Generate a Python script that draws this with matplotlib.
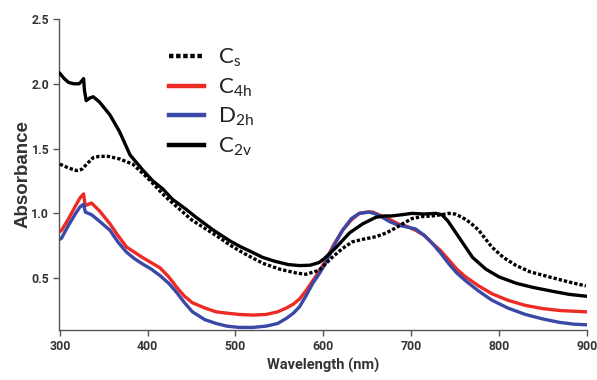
import matplotlib
matplotlib.use("Agg")
import matplotlib.pyplot as plt
import numpy as np

# ---- data ----
cs_x = [300, 310, 319, 325, 332, 338, 345, 355, 368, 383, 399, 420, 450, 480, 495, 510, 531, 550, 569, 580, 595, 610, 622, 633, 645, 660, 672, 683, 693, 701, 712, 724, 735, 743, 750, 758, 767, 777, 785, 792, 805, 819, 835, 857, 880, 899]
cs_y = [1.38, 1.35, 1.33, 1.34, 1.39, 1.43, 1.44, 1.44, 1.42, 1.38, 1.28, 1.13, 0.95, 0.82, 0.75, 0.69, 0.615, 0.57, 0.54, 0.53, 0.56, 0.66, 0.73, 0.78, 0.80, 0.82, 0.85, 0.89, 0.93, 0.96, 0.975, 0.98, 0.99, 1.0, 0.995, 0.97, 0.93, 0.87, 0.80, 0.74, 0.66, 0.60, 0.55, 0.51, 0.47, 0.44]

c4h_x = [300, 302, 310, 318, 323, 327, 328, 329, 336, 345, 357, 366, 376, 385, 394, 404, 414, 424, 433, 442, 451, 465, 478, 490, 504, 520, 535, 548, 558, 566, 573, 580, 588, 596, 603, 612, 622, 632, 641, 650, 656, 663, 671, 678, 685, 695, 705, 715, 724, 734, 743, 752, 762, 777, 792, 810, 830, 850, 870, 900]
c4h_y = [0.86, 0.87, 0.96, 1.06, 1.12, 1.15, 1.10, 1.06, 1.08, 1.02, 0.92, 0.83, 0.74, 0.70, 0.66, 0.62, 0.58, 0.51, 0.43, 0.36, 0.31, 0.27, 0.24, 0.23, 0.22, 0.215, 0.22, 0.24, 0.27, 0.30, 0.34, 0.40, 0.48, 0.56, 0.64, 0.76, 0.87, 0.95, 1.0, 1.01, 1.01, 0.99, 0.97, 0.945, 0.92, 0.90, 0.87, 0.83, 0.77, 0.71, 0.64, 0.57, 0.51, 0.44, 0.38, 0.33, 0.29, 0.265, 0.25, 0.24]

d2h_x = [300, 302, 310, 318, 323, 327, 328, 329, 336, 345, 357, 366, 376, 385, 394, 404, 414, 424, 433, 442, 451, 465, 478, 490, 504, 520, 535, 548, 558, 566, 573, 580, 588, 596, 603, 612, 622, 632, 641, 652, 660, 667, 676, 685, 695, 705, 715, 724, 734, 743, 752, 762, 777, 792, 810, 830, 850, 868, 885, 900]
d2h_y = [0.80, 0.81, 0.91, 1.00, 1.05, 1.07, 1.04, 1.01, 0.99, 0.94, 0.87, 0.78, 0.70, 0.65, 0.61, 0.57, 0.52, 0.46, 0.39, 0.31, 0.24, 0.18, 0.15, 0.13, 0.12, 0.12, 0.13, 0.15, 0.19, 0.23, 0.28, 0.36, 0.46, 0.54, 0.62, 0.75, 0.87, 0.96, 1.0, 1.01, 0.995, 0.97, 0.935, 0.91, 0.895, 0.88, 0.83, 0.77, 0.69, 0.61, 0.54, 0.48, 0.40, 0.33, 0.27, 0.22, 0.185, 0.16, 0.145, 0.14]

c2v_x = [300, 305, 310, 316, 322, 326, 327, 328, 330, 334, 338, 345, 357, 368, 380, 395, 406, 417, 428, 444, 455, 475, 493, 505, 516, 531, 545, 560, 573, 585, 595, 601, 615, 630, 645, 660, 670, 678, 690, 701, 715, 728, 735, 742, 748, 755, 762, 770, 785, 800, 820, 838, 860, 880, 900]
c2v_y = [2.08, 2.04, 2.01, 2.0, 2.0, 2.03, 2.04, 1.95, 1.87, 1.89, 1.90, 1.86, 1.76, 1.63, 1.45, 1.33, 1.25, 1.19, 1.11, 1.03, 0.97, 0.87, 0.79, 0.745, 0.71, 0.66, 0.63, 0.605, 0.597, 0.60, 0.62, 0.65, 0.74, 0.85, 0.92, 0.97, 0.98, 0.98, 0.99, 1.0, 0.995, 1.0, 0.99, 0.94, 0.88, 0.81, 0.74, 0.66, 0.57, 0.51, 0.46, 0.43, 0.40, 0.375, 0.36]

labels = [r"$\mathrm{C_{s}}$", r"$\mathrm{C_{4h}}$", r"$\mathrm{D_{2h}}$", r"$\mathrm{C_{2v}}$"]
xticks = [300, 400, 500, 600, 700, 800, 900]
yticks = [0.5, 1.0, 1.5, 2.0, 2.5]

plt.rcParams['mathtext.fontset'] = 'custom'
plt.rcParams['mathtext.rm'] = 'Lato'
plt.rcParams['mathtext.it'] = 'Lato:italic'

tickfont = ['Roboto', 'DejaVu Sans']

fig = plt.figure(figsize=(5.97, 3.8), dpi=100)
ax = fig.add_axes([0.0988, 0.1316, 0.884, 0.8184])

lw = 2.4
ax.plot(cs_x, cs_y, color='black', lw=lw, ls=(0, (1, 0.6)), label=labels[0], zorder=3)
ax.plot(c4h_x, c4h_y, color='#ee2a24', lw=lw, label=labels[1], zorder=2)
ax.plot(d2h_x, d2h_y, color='#3a48a8', lw=lw, label=labels[2], zorder=2)
ax.plot(c2v_x, c2v_y, color='black', lw=lw, label=labels[3], zorder=3)

ax.set_xlim(299, 900)
ax.set_ylim(0.1, 2.5)
ax.set_xticks(xticks)
ax.set_yticks(yticks)
ax.set_yticklabels([f"{v:.1f}" for v in yticks])

for s in ['top', 'right']:
    ax.spines[s].set_visible(False)
for s in ['left', 'bottom']:
    ax.spines[s].set_color('#555555')
    ax.spines[s].set_linewidth(1.0)
ax.tick_params(direction='out', length=4, width=1.0, color='#555555', pad=3)
for lab in ax.get_xticklabels() + ax.get_yticklabels():
    lab.set_fontfamily(tickfont)
    lab.set_fontweight('bold')
    lab.set_fontsize(8.8)
    lab.set_color('#333333')

ax.set_xlabel('Wavelength (nm)', fontfamily=tickfont, fontweight='bold', fontsize=10.5, color='#333333', labelpad=4)
ax.set_ylabel('Absorbance', fontfamily=['Liberation Sans', 'DejaVu Sans'], fontweight='bold', fontsize=13.5, color='#333333', labelpad=0)

leg = ax.legend(loc='upper left', bbox_to_anchor=(0.17, 0.975), frameon=False,
                fontsize=16, handlelength=1.6, handletextpad=0.6, labelspacing=0.33)
for t in leg.get_texts():
    t.set_color('#222222')
for h in leg.get_lines():
    h.set_linewidth(3.2)

fig.savefig('out.png', dpi=100)
